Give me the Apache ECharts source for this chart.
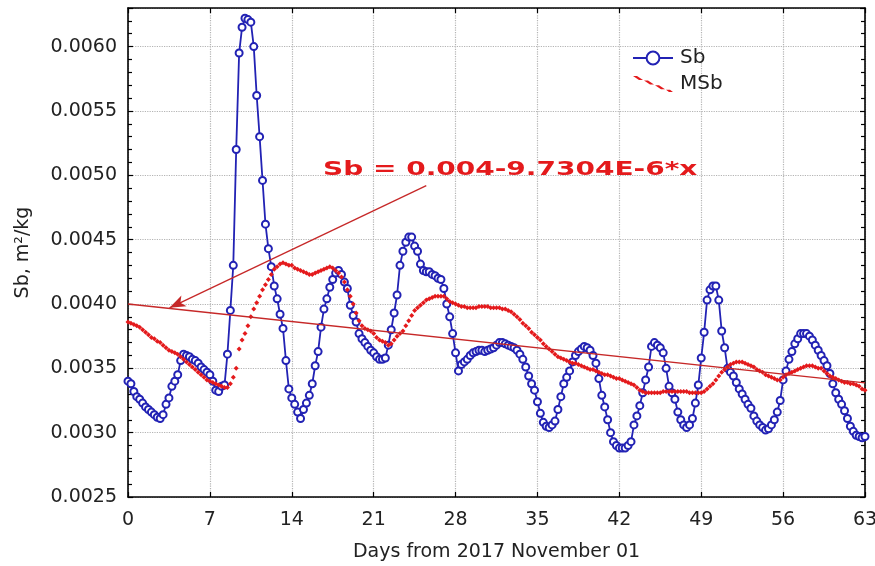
<!DOCTYPE html>
<html>
<head>
<meta charset="utf-8">
<script src="https://cdn.jsdelivr.net/npm/echarts@6/dist/echarts.min.js"></script>
<style>
  html, body { margin: 0; padding: 0; background: #fff; }
  #chart { width: 875px; height: 566px; }
</style>
</head>
<body>
<div id="chart"></div>
<script>
// readings every 6 hours (4 per day), day 0 .. day 63
const DAY_STEP = 0.25;

const sbValues = [
  0.00340, 0.00338, 0.00332, 0.00328, 0.00326, 0.00323, 0.00320, 0.00318,
  0.00316, 0.00314, 0.00312, 0.00311, 0.00314, 0.00322, 0.00327, 0.00336,
  0.00340, 0.00345, 0.00356, 0.00361, 0.00360, 0.00359, 0.00357, 0.00356,
  0.00354, 0.00351, 0.00349, 0.00347, 0.00345, 0.00340, 0.00333, 0.00332,
  0.00336, 0.00337, 0.00361, 0.00395, 0.00430, 0.00520, 0.00595, 0.00615,
  0.00622, 0.00621, 0.00619, 0.00600, 0.00562, 0.00530, 0.00496, 0.00462,
  0.00443, 0.00429, 0.00414, 0.00404, 0.00392, 0.00381, 0.00356, 0.00334,
  0.00327, 0.00322, 0.00316, 0.00311, 0.00318, 0.00323, 0.00329, 0.00338,
  0.00352, 0.00363, 0.00382, 0.00396, 0.00404, 0.00413, 0.00419, 0.00424,
  0.00426, 0.00423, 0.00417, 0.00412, 0.00399, 0.00391, 0.00386, 0.00377,
  0.00373, 0.00370, 0.00367, 0.00364, 0.00362, 0.00359, 0.00357, 0.00357,
  0.00358, 0.00368, 0.00380, 0.00393, 0.00407, 0.00430, 0.00441, 0.00448,
  0.00452, 0.00452, 0.00445, 0.00441, 0.00431, 0.00426, 0.00425, 0.00425,
  0.00423, 0.00422, 0.00420, 0.00419, 0.00412, 0.00400, 0.00390, 0.00377,
  0.00362, 0.00348, 0.00353, 0.00355, 0.00357, 0.00360, 0.00362, 0.00363,
  0.00364, 0.00364, 0.00363, 0.00364, 0.00365, 0.00366, 0.00368, 0.00370,
  0.00370, 0.00369, 0.00368, 0.00367, 0.00366, 0.00364, 0.00361, 0.00357,
  0.00351, 0.00344, 0.00338, 0.00333, 0.00324, 0.00315, 0.00308, 0.00305,
  0.00304, 0.00306, 0.00309, 0.00318, 0.00328, 0.00338, 0.00343, 0.00348,
  0.00355, 0.00360, 0.00363, 0.00365, 0.00367, 0.00366, 0.00364, 0.00360,
  0.00354, 0.00342, 0.00329, 0.00320, 0.00310, 0.00300, 0.00293, 0.00290,
  0.00288, 0.00288, 0.00288, 0.00290, 0.00293, 0.00306, 0.00313, 0.00321,
  0.00331, 0.00341, 0.00351, 0.00367, 0.00370, 0.00368, 0.00366, 0.00362,
  0.00350, 0.00336, 0.00331, 0.00326, 0.00316, 0.00310, 0.00306, 0.00304,
  0.00306, 0.00311, 0.00323, 0.00337, 0.00358, 0.00378, 0.00403, 0.00411,
  0.00414, 0.00414, 0.00403, 0.00379, 0.00366, 0.00350, 0.00347, 0.00344,
  0.00339, 0.00334, 0.00330, 0.00326, 0.00322, 0.00319, 0.00313, 0.00309,
  0.00306, 0.00304, 0.00302, 0.00303, 0.00306, 0.00310, 0.00316, 0.00325,
  0.00341, 0.00348, 0.00357, 0.00363, 0.00369, 0.00373, 0.00377, 0.00377,
  0.00377, 0.00375, 0.00372, 0.00368, 0.00364, 0.00360, 0.00356, 0.00352,
  0.00346, 0.00338, 0.00331, 0.00326, 0.00322, 0.00317, 0.00311, 0.00305,
  0.00301, 0.00298, 0.00297, 0.00296, 0.00297
];

const msbValues = [
  0.00386, 0.00385, 0.00384, 0.00383, 0.00382, 0.00380, 0.00378, 0.00376,
  0.00374, 0.00373, 0.00371, 0.00370, 0.00368, 0.00366, 0.00364, 0.00363,
  0.00362, 0.00361, 0.00359, 0.00357, 0.00355, 0.00353, 0.00351, 0.00349,
  0.00347, 0.00345, 0.00343, 0.00341, 0.00340, 0.00339, 0.00338, 0.00337,
  0.00336, 0.00335, 0.00335, 0.00338, 0.00343, 0.00350, 0.00365, 0.00372,
  0.00377, 0.00383, 0.00390, 0.00396, 0.00401, 0.00406, 0.00411, 0.00415,
  0.00419, 0.00423, 0.00427, 0.00429, 0.00431, 0.00432, 0.00431, 0.00430,
  0.00430, 0.00428, 0.00427, 0.00426, 0.00425, 0.00424, 0.00423, 0.00423,
  0.00424, 0.00425, 0.00426, 0.00427, 0.00428, 0.00429, 0.00428, 0.00426,
  0.00424, 0.00421, 0.00417, 0.00411, 0.00406, 0.00400, 0.00393, 0.00387,
  0.00383, 0.00381, 0.00380, 0.00379, 0.00377, 0.00374, 0.00372, 0.00371,
  0.00370, 0.00368, 0.00369, 0.00372, 0.00375, 0.00377, 0.00379, 0.00383,
  0.00387, 0.00391, 0.00395, 0.00397, 0.00399, 0.00401, 0.00403, 0.00404,
  0.00405, 0.00406, 0.00406, 0.00406, 0.00406, 0.00404, 0.00402, 0.00401,
  0.00400, 0.00399, 0.00398, 0.00398, 0.00397, 0.00397, 0.00397, 0.00397,
  0.00398, 0.00398, 0.00398, 0.00398, 0.00397, 0.00397, 0.00397, 0.00397,
  0.00396, 0.00396, 0.00395, 0.00394, 0.00392, 0.00390, 0.00388, 0.00385,
  0.00383, 0.00381, 0.00378, 0.00376, 0.00374, 0.00372, 0.00369, 0.00367,
  0.00365, 0.00363, 0.00361, 0.00359, 0.00358, 0.00357, 0.00356, 0.00355,
  0.00354, 0.00354, 0.00353, 0.00352, 0.00351, 0.00350, 0.00349, 0.00349,
  0.00348, 0.00347, 0.00346, 0.00345, 0.00345, 0.00344, 0.00343, 0.00342,
  0.00342, 0.00341, 0.00340, 0.00339, 0.00338, 0.00337, 0.00335, 0.00333,
  0.00332, 0.00331, 0.00331, 0.00331, 0.00331, 0.00331, 0.00331, 0.00332,
  0.00332, 0.00332, 0.00332, 0.00332, 0.00332, 0.00332, 0.00332, 0.00332,
  0.00331, 0.00331, 0.00331, 0.00331, 0.00331, 0.00332, 0.00334, 0.00336,
  0.00338, 0.00341, 0.00344, 0.00347, 0.00349, 0.00351, 0.00353, 0.00354,
  0.00355, 0.00355, 0.00355, 0.00354, 0.00353, 0.00352, 0.00351, 0.00349,
  0.00348, 0.00347, 0.00345, 0.00344, 0.00343, 0.00342, 0.00341, 0.00341,
  0.00343, 0.00345, 0.00346, 0.00347, 0.00348, 0.00349, 0.00350, 0.00351,
  0.00352, 0.00352, 0.00352, 0.00351, 0.00350, 0.00350, 0.00348, 0.00346,
  0.00344, 0.00343, 0.00342, 0.00341, 0.00340, 0.00339, 0.00339, 0.00338,
  0.00338, 0.00337, 0.00336, 0.00334, 0.00333
];

// linear fit Sb = 0.004 - 9.7304E-6*x, drawn between its two end points
const trendDays = [0, 63];
const trendValues = [0.004, 0.0033870];

// arrow from the equation label to the fitted line
const arrowFrom = [25.5, 0.00492];
const arrowTo = [3.55, 0.00397];

const equationText = 'Sb = 0.004-9.7304E-6*x';

const FONT = 'DejaVu Sans';
const BLUE = '#2222b4';
const RED = '#e41a1c';
const DARK_RED = '#c62828';

const toPairs = (vals) => vals.map((v, i) => [i * DAY_STEP, v]);

const chart = echarts.init(document.getElementById('chart'), null, { renderer: 'canvas' });

const frameAxis = {
  axisLine: { show: true, onZero: false, lineStyle: { color: '#000', width: 1.6 } },
  axisTick: { show: true, inside: true, length: 5, lineStyle: { color: '#000', width: 1.2 } },
  axisLabel: { show: false },
  splitLine: { show: false }
};

const option = {
  animation: false,
  backgroundColor: '#fff',
  grid: { left: 128, right: 10, top: 8, bottom: 69, containLabel: false, outerBoundsMode: 'none' },
  legend: {
    orient: 'vertical',
    left: 627,
    top: 43,
    itemWidth: 40,
    itemHeight: 16,
    itemGap: 6,
    textStyle: { fontFamily: FONT, fontSize: 20, color: '#222', padding: [0, 0, 0, 2] },
    data: [
      { name: 'Sb' },
      { name: 'MSb', icon: 'path://M0,0L4,0L10,4L6,4Z M11,4.6L15,4.6L21,8.6L17,8.6Z M22,9.2L26,9.2L32,13.2L28,13.2Z M33,13.8L37,13.8L40,16L36,16Z' }
    ]
  },
  xAxis: [
    {
      type: 'value',
      min: 0,
      max: 63,
      interval: 7,
      position: 'bottom',
      name: 'Days from 2017 November 01',
      nameLocation: 'middle',
      nameGap: 46,
      nameTextStyle: { fontFamily: FONT, fontSize: 19, color: '#222' },
      axisLine: { onZero: false, lineStyle: { color: '#000', width: 1.6 } },
      axisTick: { inside: true, length: 5, lineStyle: { color: '#000', width: 1.2 } },
      axisLabel: { fontFamily: FONT, fontSize: 19, color: '#222', margin: 14 },
      splitLine: { show: true, lineStyle: { color: '#b4b4b4', type: 'dotted', width: 1.2 } }
    },
    Object.assign({ type: 'value', min: 0, max: 63, interval: 7, position: 'top' }, frameAxis)
  ],
  yAxis: [
    {
      type: 'value',
      min: 0.0025,
      max: 0.0063,
      interval: 0.0005,
      position: 'left',
      name: 'Sb, m²/kg',
      nameLocation: 'middle',
      nameGap: 95,
      nameTextStyle: { fontFamily: FONT, fontSize: 19, color: '#222' },
      axisLine: { show: true, onZero: false, lineStyle: { color: '#000', width: 1.6 } },
      axisTick: { show: true, inside: true, length: 5, lineStyle: { color: '#000', width: 1.2 } },
      minorTick: { show: true, splitNumber: 5, length: 4, lineStyle: { color: '#000', width: 1.2 } },
      axisLabel: {
        fontFamily: FONT, fontSize: 19, color: '#222', margin: 11,
        showMaxLabel: false,
        formatter: (v) => v.toFixed(4)
      },
      splitLine: { show: true, lineStyle: { color: '#b4b4b4', type: 'dotted', width: 1.2 } }
    },
    Object.assign({
      type: 'value', min: 0.0025, max: 0.0063, interval: 0.0005, position: 'right',
      minorTick: { show: true, splitNumber: 5, length: 4, lineStyle: { color: '#000', width: 1.2 } }
    }, frameAxis)
  ],
  series: [
    {
      name: 'Sb',
      type: 'line',
      data: toPairs(sbValues),
      symbol: 'emptyCircle',
      symbolSize: 7,
      showAllSymbol: true,
      color: BLUE,
      lineStyle: { color: BLUE, width: 1.8 },
      itemStyle: { color: BLUE, borderColor: BLUE, borderWidth: 1.4 },
      z: 3
    },
    {
      name: 'MSb',
      type: 'line',
      data: toPairs(msbValues),
      symbol: 'diamond',
      symbolSize: 5,
      showAllSymbol: true,
      color: RED,
      lineStyle: { color: RED, width: 1, opacity: 0 },
      itemStyle: { color: RED },
      z: 4
    },
    {
      name: 'fit',
      type: 'line',
      data: trendDays.map((d, i) => [d, trendValues[i]]),
      symbol: 'none',
      color: DARK_RED,
      lineStyle: { color: DARK_RED, width: 1.4 },
      z: 5,
      markLine: {
        silent: true,
        symbol: ['none', 'arrow'],
        symbolSize: [9, 16],
        label: { show: false },
        lineStyle: { color: DARK_RED, width: 1.3, type: 'solid' },
        data: [[{ coord: arrowFrom }, { coord: arrowTo }]]
      }
    }
  ],
  graphic: [
    {
      type: 'text',
      x: 323,
      y: 160,
      scaleX: 1.4,
      z: 10,
      style: {
        text: equationText,
        fontFamily: FONT,
        fontSize: 20,
        fontWeight: 'bold',
        fill: RED,
        verticalAlign: 'top'
      }
    }
  ]
};

chart.setOption(option);
</script>
</body>
</html>
